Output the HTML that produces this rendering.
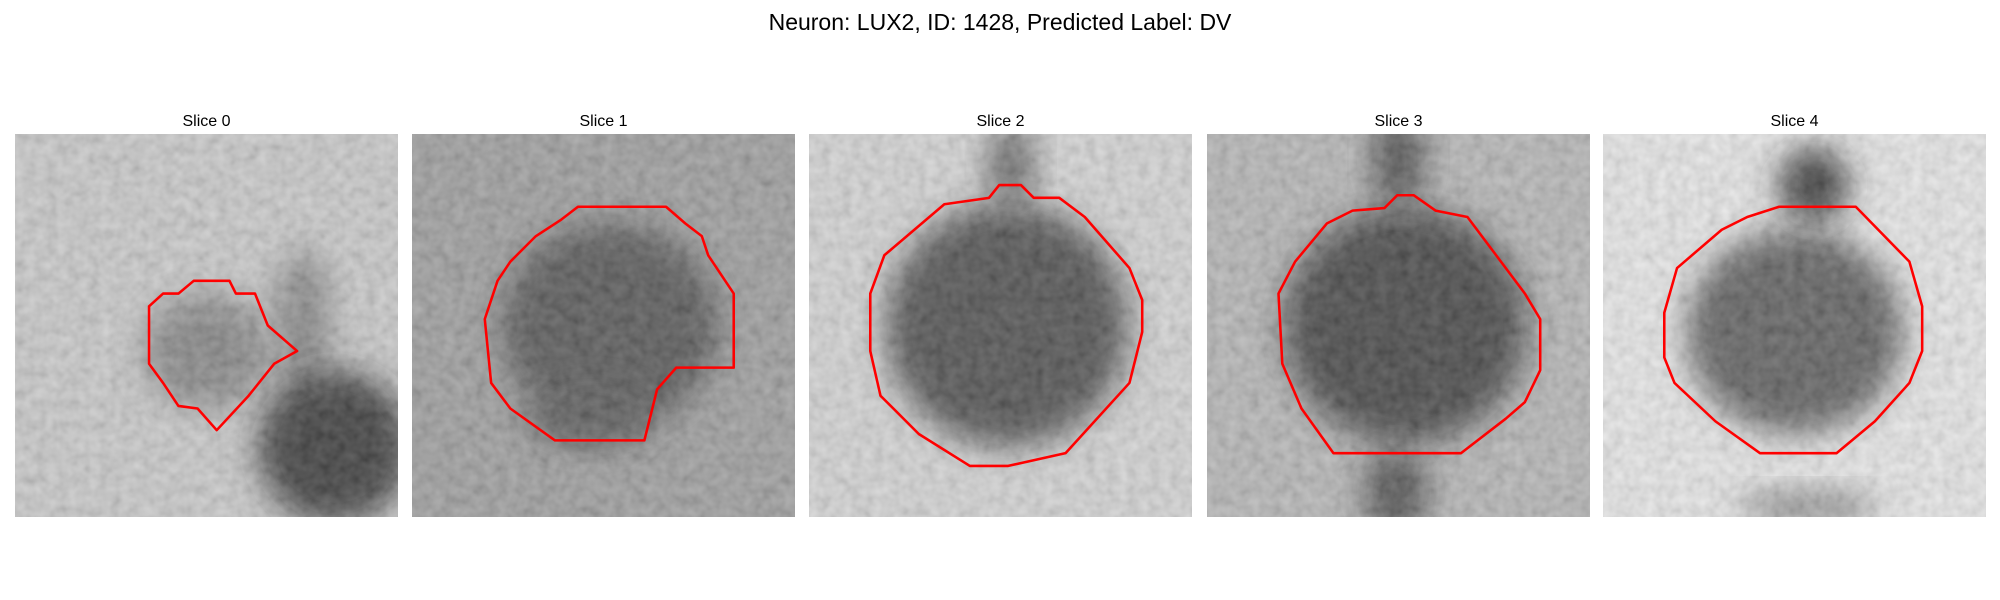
<!DOCTYPE html>
<html><head><meta charset="utf-8">
<style>
body{margin:0;width:2000px;height:600px;background:#fff;overflow:hidden;font-family:"Liberation Sans",sans-serif;}
#title{position:absolute;left:0;width:2000px;top:9px;text-align:center;font-size:23px;color:#000;}
.pt{position:absolute;width:383px;text-align:center;font-size:16px;top:113px;}
svg.p{position:absolute;top:134px;width:383px;height:383px;}
</style></head><body>
<div id="title">Neuron: LUX2, ID: 1428, Predicted Label: DV</div>
<div id="root"></div>
<script>
const sliceNames=["Slice 0","Slice 1","Slice 2","Slice 3","Slice 4"];
const panelLeft=[15,412,809,1207,1603];
const contour0=[[105,135],[116,125],[128,125],[140,115],[168,115],[173,125],[188,125],[198,150],[221,170],[203,180],[183,205],[158,232],[143,215],[128,213],[116,195],[105,180]];
const contour1=[[130,57],[199,57],[214,70],[227,80],[232,95],[242,110],[252,125],[252,183],[207,183],[192,200],[182,240],[112,240],[77,215],[62,195],[57,145],[67,115],[77,100],[97,80],[117,67]];
const contour2=[[149,40],[166,40],[176,50],[196,50],[216,65],[251,105],[261,130],[261,155],[251,195],[201,250],[156,260],[126,260],[86,235],[56,205],[48,170],[48,125],[59,95],[106,55],[141,50]];
const contour3=[[149,48],[162,48],[179,60],[204,65],[249,125],[261,145],[261,185],[249,210],[234,223],[199,250],[99,250],[74,215],[59,180],[56,125],[69,100],[94,70],[114,60],[139,58]];
const contour4=[[138,57],[198,57],[240,100],[250,135],[250,170],[240,195],[213,225],[183,250],[123,250],[88,225],[56,195],[48,175],[48,140],[58,105],[93,75],[113,65]];
const contours=[contour0,contour1,contour2,contour3,contour4];
const baseGray=["#c6c6c6","#959595","#d2d2d2","#b0b0b0","#e8e8e8"];
// blobs: [cx,cy,rx,ry,color]
const blobs=[
 [[150,170,50,45,"#7c7c7c"],[225,150,22,60,"#7a7a7a"],[250,245,60,60,"#262626"]],
 [[155,150,85,80,"#444"],[140,220,50,25,"#4a4a4a"]],
 [[155,150,95,95,"#3e3e3e"],[158,25,18,35,"#555"]],
 [[155,150,95,92,"#303030"],[150,20,20,40,"#3a3a3a"],[148,280,25,35,"#3e3e3e"]],
 [[150,155,85,80,"#505050"],[165,40,28,30,"#262626"],[160,292,55,12,"#777"]]
];
const NS="http://www.w3.org/2000/svg";
const root=document.getElementById('root');
sliceNames.forEach((nm,i)=>{
  const t=document.createElement('div');
  t.className='pt';t.style.left=panelLeft[i]+'px';t.textContent=nm;
  
  
  root.appendChild(t);
  const s=document.createElementNS(NS,'svg');
  s.setAttribute('class','p');s.setAttribute('viewBox','0 0 300 300');
  s.style.left=panelLeft[i]+'px';
  
  
  s.innerHTML=`<defs><filter id="b${i}" x="-50%" y="-50%" width="200%" height="200%"><feGaussianBlur stdDeviation="12"/></filter>
  <filter id="n${i}"><feTurbulence type="fractalNoise" baseFrequency="0.12" numOctaves="2" seed="${i+3}"/><feColorMatrix type="saturate" values="0"/><feComponentTransfer><feFuncA type="linear" slope="0" intercept="0.3"/></feComponentTransfer></filter>
  <clipPath id="c${i}"><rect width="300" height="300"/></clipPath></defs>`;
  const g=document.createElementNS(NS,'g');g.setAttribute('clip-path',`url(#c${i})`);
  const bg=document.createElementNS(NS,'rect');
  bg.setAttribute('width',300);bg.setAttribute('height',300);bg.setAttribute('fill',baseGray[i]);
  
  
  g.appendChild(bg);
  blobs[i].forEach(b=>{
    const e=document.createElementNS(NS,'ellipse');
    e.setAttribute('cx',b[0]);e.setAttribute('cy',b[1]);e.setAttribute('rx',b[2]);e.setAttribute('ry',b[3]);
    e.setAttribute('fill',b[4]);e.setAttribute('filter',`url(#b${i})`);
    
    
    g.appendChild(e);
  });
  const nz=document.createElementNS(NS,'rect');
  nz.setAttribute('width',300);nz.setAttribute('height',300);nz.setAttribute('filter',`url(#n${i})`);
  
  
  g.appendChild(nz);
  const pl=document.createElementNS(NS,'polygon');
  pl.setAttribute('points',contours[i].map(p=>p.join(',')).join(' '));
  pl.setAttribute('fill','none');pl.setAttribute('stroke','#ff0000');pl.setAttribute('stroke-width','2');
  pl.setAttribute('stroke-linejoin','round');
  
  
  g.appendChild(pl);
  s.appendChild(g);
  root.appendChild(s);
});
</script>
</body></html>
